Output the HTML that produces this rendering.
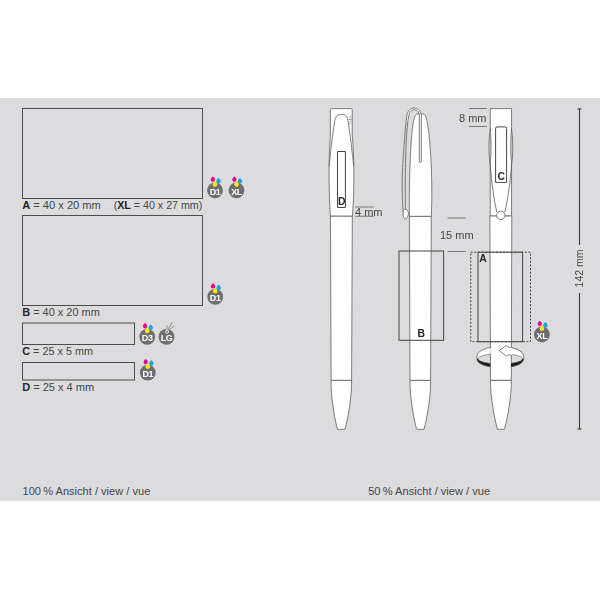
<!DOCTYPE html>
<html><head><meta charset="utf-8">
<style>
html,body{margin:0;padding:0;background:#fff;width:600px;height:600px;overflow:hidden}
svg{display:block}
text{font-family:"Liberation Sans",sans-serif;fill:#464646}
</style></head><body>
<svg width="600" height="600" viewBox="0 0 600 600">
<defs>
  <g id="drops">
    <path d="M-2.1,-10.5 C-2.1,-11.8 -1.2,-12.9 0,-13.7 C1.2,-12.9 2.1,-11.8 2.1,-10.5 A2.1,2.1 0 0 1 -2.1,-10.5Z" transform="translate(-2.1,0)" fill="#e5007d"/>
    <path d="M-2.2,-9 C-2.2,-10.3 -1.3,-11.5 0,-12.4 C1.3,-11.5 2.2,-10.3 2.2,-9 A2.2,2.2 0 0 1 -2.2,-9Z" transform="translate(3.5,0)" fill="#1ea4e0"/>
    <path d="M-2.3,-5.8 C-2.3,-7.1 -1.3,-8.2 0,-9 C1.3,-8.2 2.3,-7.1 2.3,-5.8 A2.3,2.3 0 0 1 -2.3,-5.8Z" fill="#ffe500"/>
  </g>
</defs>
<rect x="0" y="98" width="600" height="403" fill="#dcdcde"/>

<!-- left boxes -->
<g fill="none" stroke="#4d4d4d" stroke-width="1">
  <rect x="22.5" y="108.5" width="180" height="90"/>
  <rect x="22.5" y="215.5" width="180" height="90"/>
  <rect x="22.5" y="323" width="112" height="21.5"/>
  <rect x="22.5" y="362.5" width="112" height="17.5"/>
</g>
<g font-size="10.6">
  <text x="22.2" y="208.7" textLength="78.6" lengthAdjust="spacingAndGlyphs"><tspan font-weight="bold" style="fill:#262626">A</tspan> = 40 x 20 mm</text>
  <text x="113.7" y="208.7" textLength="88.6" lengthAdjust="spacingAndGlyphs">(<tspan font-weight="bold" style="fill:#262626">XL</tspan> = 40 x 27 mm)</text>
  <text x="22.2" y="316" textLength="77.6" lengthAdjust="spacingAndGlyphs"><tspan font-weight="bold" style="fill:#262626">B</tspan> = 40 x 20 mm</text>
  <text x="22.2" y="355.4" textLength="70.8" lengthAdjust="spacingAndGlyphs"><tspan font-weight="bold" style="fill:#262626">C</tspan> = 25 x 5 mm</text>
  <text x="22.2" y="391.4" textLength="72" lengthAdjust="spacingAndGlyphs"><tspan font-weight="bold" style="fill:#262626">D</tspan> = 25 x 4 mm</text>
</g>

<!-- badges -->
<g id="b1" transform="translate(215,190.3)">
  <circle r="7.9" fill="#6d6e70"/>
  <use href="#drops"/>
  <text x="0" y="4.5" text-anchor="middle" font-size="9" font-weight="bold" style="fill:#fff;will-change:transform" letter-spacing="-0.4">D1</text>
</g>
<g transform="translate(236.5,190.3)">
  <circle r="7.9" fill="#6d6e70"/>
  <use href="#drops"/>
  <text x="0" y="4.5" text-anchor="middle" font-size="9" font-weight="bold" style="fill:#fff;will-change:transform" letter-spacing="-0.4">XL</text>
</g>
<g transform="translate(215.2,296.9)">
  <circle r="7.9" fill="#6d6e70"/>
  <use href="#drops"/>
  <text x="0" y="4.5" text-anchor="middle" font-size="9" font-weight="bold" style="fill:#fff;will-change:transform" letter-spacing="-0.4">D1</text>
</g>
<g transform="translate(147.2,336.8)">
  <circle r="7.9" fill="#6d6e70"/>
  <use href="#drops"/>
  <text x="0" y="4.5" text-anchor="middle" font-size="9" font-weight="bold" style="fill:#fff;will-change:transform" letter-spacing="-0.4">D3</text>
</g>
<g transform="translate(166.5,336.8)">
  <circle r="7.9" fill="#6d6e70"/>
  <g stroke="#9b9b9b" fill="none" stroke-linecap="round">
    <line x1="0.4" y1="-11.4" x2="0.4" y2="-5.5" stroke-width="1.3" stroke="#a8a8a8"/>
    <line x1="5.6" y1="-14.3" x2="1.4" y2="-6.8" stroke-width="0.9" stroke="#8a8a8a"/>
    <line x1="7.4" y1="-10.8" x2="1.7" y2="-6.3" stroke-width="0.9" stroke="#8a8a8a"/>
    <circle cx="0.5" cy="-5.1" r="1.6" stroke="#e6e6e6" stroke-width="1"/>
  </g>
  <text x="0" y="4.5" text-anchor="middle" font-size="9" font-weight="bold" style="fill:#fff;will-change:transform" letter-spacing="-0.4">LG</text>
</g>
<g transform="translate(147.8,372.6)">
  <circle r="7.9" fill="#6d6e70"/>
  <use href="#drops"/>
  <text x="0" y="4.5" text-anchor="middle" font-size="9" font-weight="bold" style="fill:#fff;will-change:transform" letter-spacing="-0.4">D1</text>
</g>
<g transform="translate(541.9,334.5)">
  <circle r="7.9" fill="#6d6e70"/>
  <use href="#drops"/>
  <text x="0" y="4.5" text-anchor="middle" font-size="9" font-weight="bold" style="fill:#fff;will-change:transform" letter-spacing="-0.4">XL</text>
</g>

<!-- rotation ring -->
<g id="ring">
  <path fill="#1a1a1a" d="M477.1,358.6 L477,359.3 A23.3,8.4 0 0 0 523.6,359.3 L523.5,358.6 Z"/>
  <path fill="#fff" d="M477.1,358.8 L477,356 A23.3,9.5 0 0 1 523.6,356 L523.5,358.8 Z"/>
  <ellipse cx="500.3" cy="358.8" rx="22.2" ry="5.15" fill="#dcdcde" stroke="#555" stroke-width="0.6"/>
  <path fill="none" stroke="#555" stroke-width="0.7" d="M477,359.3 L477,356 A23.3,9.5 0 0 1 523.6,356 L523.6,359.3 A23.3,8.4 0 0 1 477,359.3 Z"/>
</g>
<!-- PENS -->
<g fill="#fff" stroke="#5e5e5e" stroke-width="0.8" stroke-linejoin="round">
  <!-- pen 1 -->
  <path d="M331.1,380.3 L351.6,380.3 C351.9,396 348.2,418 345,429.3 L337.4,429.3 C334.4,418 330.8,396 331.1,380.3Z"/>
  <path d="M330.45,216 L352.3,216 L351.6,380.3 L331.1,380.3Z"/>
  <path d="M330.4,216 C329.2,200 328.9,180 329.1,165 C329.3,152 330,142 330.4,135 L330.4,109.6 Q330.4,108.6 331.4,108.6 L351.2,108.6 Q352.2,108.6 352.2,109.6 L352.2,135 C352.8,142 353.6,152 353.8,165 C354,180 353.8,200 352.4,216Z"/>
  <path fill="none" d="M329.2,166 C330,158 330.7,152 331.2,146 L334.6,121.5 Q335.8,114.6 339.5,114.6 L343.5,114.6 Q347.2,114.6 348.2,121.5 L351.5,146 C352,152 352.8,158 353.7,166"/>
  <rect x="337.5" y="151.5" width="7.9" height="56" stroke="#3c3c3c" stroke-width="0.95" fill="none"/>
  <g stroke="#a0a0a0" stroke-width="0.7"><circle cx="350.4" cy="116.8" r="1.3" fill="#c4c4c4" stroke="none"/><line x1="348.2" y1="119.6" x2="352" y2="119.6" stroke="#8e8e8e" stroke-width="0.9"/><ellipse cx="350.3" cy="122.4" rx="1.5" ry="1.3" fill="#fff"/></g>

  <!-- pen 2 -->
  <path d="M410,380.3 L430.6,380.3 C430.9,396 427.2,418 424,429.3 L416.6,429.3 C413.5,418 409.7,396 410,380.3Z"/>
  <path d="M409.4,216.3 L431.3,216.3 L430.6,380.3 L410,380.3Z"/>
  <path d="M409.4,216.3 C409,195 409.5,170 411,145 C412,128 413.5,118 415.5,115.2 Q416.3,113.9 418,113.9 L422.5,113.9 Q424.5,113.9 425.4,115.5 C428,122 430,140 431.2,165 C432,185 432,200 431.3,216.3Z"/>
  <path d="M419.3,113.5 L419.3,162 Q420.3,163.3 421.3,162 L421.3,113.5"/>
  <!-- clip loop -->
  <path stroke="none" d="M420.8,113.5 C420,109.5 417,108.1 414.1,108.1 C410.5,108.1 407.8,110.5 407,115 L406.2,122 L408.3,122 L408.8,115.5 C409.5,111.5 411.5,109.8 414.1,109.8 C416.5,109.8 418.5,111 419.3,113.8Z"/>
  <path fill="none" d="M420.8,113.5 C420,109.5 417,108.1 414.1,108.1 C410.5,108.1 407.8,110.5 407,115 C405.8,122 405,132 404.5,140 C403.5,155 402.6,165 402.3,175 C402,195 402.6,205 403.2,212"/>
  <path fill="none" d="M419.3,113.8 C418.5,111 416.5,109.8 414.1,109.8 C411.5,109.8 409.5,111.5 408.8,115.5 C407.5,122 406.8,132 406.3,140 C405.8,155 405.4,165 405.3,175 C405.2,195 405.4,205 405.6,210"/>
  <path d="M403.3,210.5 C404.8,208.5 407.4,209 408.3,212.5 C408.8,216 406.8,219.2 404.7,219 C403,218 402.8,213 403.3,210.5Z"/>

  <!-- pen 3 -->
  <path d="M490.5,380.3 L511.3,380.3 C511.6,396 507.6,418 504.4,429.3 L497.4,429.3 C494.3,418 490.3,396 490.5,380.3Z"/>
  <path d="M489.9,215.8 L511.8,215.8 L511.3,380.3 L490.5,380.3Z"/>
  <path d="M490.25,215.8 L490.25,163 C491.3,152 491.3,140 490.25,129 L490.25,108.6 L511.55,108.6 L511.55,129 C510.5,140 510.5,152 511.55,163 L511.55,215.8Z"/>
  <path fill="none" d="M490.3,129 C488.5,140 488.5,155 490.4,166 C491.4,182 494.3,202 496.8,212"/>
  <path fill="none" d="M511.5,129 C513.3,140 513.3,155 511.4,166 C510.4,182 507.4,202 504.8,212"/>
  <path stroke="#3c3c3c" stroke-width="0.95" d="M495.6,182.4 L495.6,128.4 Q495.6,126.9 497.1,126.9 L505.1,126.9 Q506.6,126.9 506.6,128.4 L506.6,182.4Z"/>
  <circle cx="500.8" cy="215.3" r="4.2"/>
</g>

<!-- arrow head -->
<clipPath id="clipR"><rect x="511" y="340" width="20" height="14.6"/><rect x="511" y="363.4" width="20" height="10"/></clipPath>
<clipPath id="clipL"><rect x="489.6" y="340" width="1.6" height="14.2"/></clipPath>
<use href="#ring" clip-path="url(#clipR)"/>
<use href="#ring" clip-path="url(#clipL)" opacity="0.7"/>
<path fill="#fff" d="M506.6,345.3 L507.5,346.8 L511.8,347.6 L511.8,355.5 L507.8,355 L506.6,356.2 L499.1,350.5Z"/>
<path fill="none" stroke="#555" stroke-width="0.7" stroke-linejoin="miter" d="M511.6,347.6 L507.5,346.9 L506.6,345.3 L499.1,350.5 L506.6,356.2 L507.8,354.8 L511.6,355.4"/>
<!-- print boxes on pens -->
<g fill="none" stroke="#444" stroke-width="1">
  <rect x="399" y="251" width="44.6" height="89.3"/>
  <rect x="478" y="252.2" width="44.6" height="89.5"/>
</g>
<rect x="470.8" y="252.2" width="59.7" height="89.5" fill="none" stroke="#444" stroke-width="1" stroke-dasharray="2,1.6"/>
<!-- dimension lines -->
<g stroke="#7a7a7a" stroke-width="1">
  <line x1="355.3" y1="207" x2="373.7" y2="207"/>
  <line x1="355.3" y1="216.3" x2="373.7" y2="216.3"/>
  <line x1="469" y1="108.5" x2="486.9" y2="108.5"/>
  <line x1="469" y1="126.5" x2="486.9" y2="126.5"/>
  <line x1="447.5" y1="218" x2="465.8" y2="218"/>
  <line x1="447.5" y1="251.5" x2="465.8" y2="251.5"/>
</g>
<g font-size="11">
  <text x="355" y="215.8">4 mm</text>
  <text x="459" y="121.9">8 mm</text>
  <text x="440" y="238.5">15 mm</text>
</g>
<g font-size="10.4" font-weight="bold">
  <text x="338" y="204.6" style="fill:#262626">D</text>
  <text x="497.4" y="180" style="fill:#262626">C</text>
  <text x="479.3" y="261.8" style="fill:#262626">A</text>
  <text x="417.6" y="337.3" style="fill:#262626">B</text>
</g>
<!-- 142 mm -->
<g stroke="#3a3a3a" stroke-width="1.1">
  <line x1="579.5" y1="108.7" x2="579.5" y2="245"/>
  <line x1="579.5" y1="293" x2="579.5" y2="429"/>
  <line x1="577.5" y1="109" x2="581.5" y2="109"/>
  <line x1="577.5" y1="429" x2="581.5" y2="429"/>
</g>
<text transform="translate(582.6,287.4) rotate(-90)" font-size="10.5">142 mm</text>

<g font-size="10.4">
  <text x="22.5" y="495" textLength="127.8" lengthAdjust="spacingAndGlyphs">100&#8201;% Ansicht / view / vue</text>
  <text x="368.2" y="495" textLength="122" lengthAdjust="spacingAndGlyphs">50&#8201;% Ansicht / view / vue</text>
</g>
</svg>
</body></html>
